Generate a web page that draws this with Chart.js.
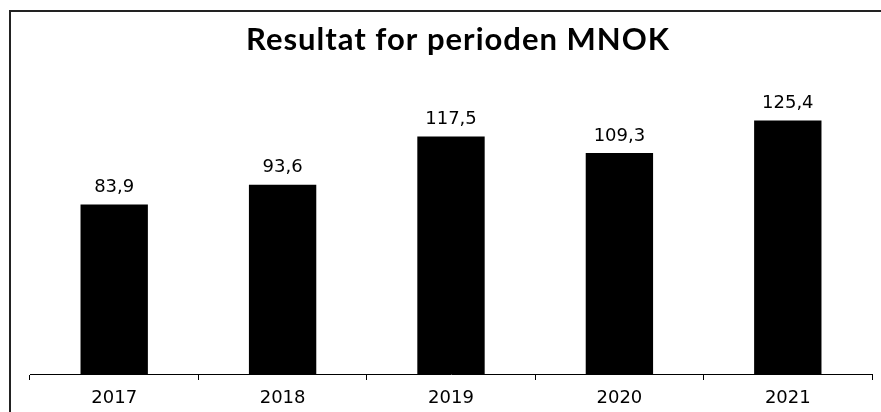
<!DOCTYPE html>
<html>
<head>
<meta charset="utf-8">
<script src="https://cdn.jsdelivr.net/npm/chart.js@4/dist/chart.umd.min.js"></script>
<style>
  body { margin: 0; background: #fff; }
  #wrap { width: 881px; height: 412px; position: relative; }
</style>
</head>
<body>
<div id="wrap"><canvas id="Resultat"></canvas></div>
<script>
// Resultat for perioden, MNOK
const years = ["2017", "2018", "2019", "2020", "2021"];
const resultat = [83.9, 93.6, 117.5, 109.3, 125.4];
const chartTitle = "Resultat for perioden MNOK";

// frame, title and value labels drawn on the canvas
const extras = {
    id: "extras",
    beforeDraw(chart) {
        const ctx = chart.ctx;
        ctx.save();
        ctx.strokeStyle = "#222";
        ctx.lineWidth = 2;
        ctx.beginPath();
        ctx.moveTo(10, 412);
        ctx.lineTo(10, 11);
        ctx.lineTo(881, 11);
        ctx.stroke();
        ctx.restore();
    },
    afterDraw(chart) {
        const ctx = chart.ctx;
        ctx.save();
        ctx.fillStyle = "#000";
        ctx.textAlign = "center";
        ctx.textBaseline = "alphabetic";
        ctx.font = "bold 31px Lato";
        ctx.letterSpacing = "1px";
        ctx.fillText(chartTitle, 458, 50);
        ctx.letterSpacing = "0px";
        ctx.textBaseline = "middle";
        ctx.font = "18px 'DejaVu Sans'";
        chart.getDatasetMeta(0).data.forEach((bar, i) => {
            ctx.fillText(resultat[i].toFixed(1).replace(".", ","), bar.x, bar.y - 17);
        });
        ctx.restore();
    }
};

new Chart("Resultat", {
    type: "bar",
    data: {
        labels: years,
        datasets: [{
            label: "Resultat",
            data: resultat,
            backgroundColor: "#000",
            barPercentage: 0.4,
            categoryPercentage: 1
        }]
    },
    options: {
        responsive: true,
        maintainAspectRatio: false,
        animation: false,
        layout: {
            padding: { left: 30, right: 9, top: 91, bottom: 0 }
        },
        plugins: {
            legend: { display: false },
            title: { display: false },
            tooltip: { enabled: false }
        },
        scales: {
            x: {
                afterFit(scale) { scale.height = 38; },
                grid: {
                    display: true,
                    drawOnChartArea: false,
                    drawTicks: true,
                    tickLength: 6,
                    color: "#000"
                },
                border: { display: true, color: "#000", width: 1 },
                ticks: {
                    color: "#000",
                    padding: 8,
                    font: { family: "DejaVu Sans", size: 18 }
                }
            },
            y: {
                display: false,
                min: 0,
                max: 140
            }
        }
    },
    plugins: [extras]
});
</script>
</body>
</html>
